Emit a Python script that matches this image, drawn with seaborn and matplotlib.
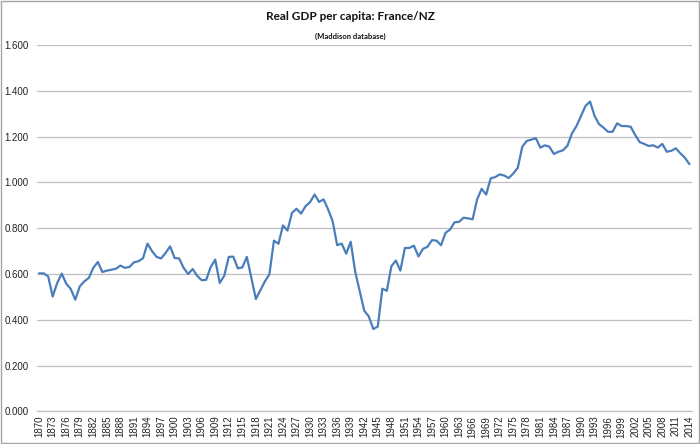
import matplotlib
matplotlib.use('Agg')
import matplotlib.pyplot as plt
import matplotlib.ticker as mticker
import seaborn as sns
import pandas as pd

sns.set_style('white')
plt.rcParams['font.family'] = ['Liberation Sans', 'DejaVu Sans']

# Real GDP per capita ratio France / New Zealand
years = list(range(1870, 2015))
ratio = [
    0.603, 0.603, 0.590, 0.502, 0.561, 0.602, 0.558, 0.535, 0.488, 0.546,  # 1870s
    0.568, 0.583, 0.627, 0.653, 0.609, 0.615, 0.619, 0.623, 0.637, 0.627,  # 1880s
    0.631, 0.651, 0.656, 0.669, 0.733, 0.700, 0.675, 0.668, 0.692, 0.721,  # 1890s
    0.670, 0.668, 0.627, 0.600, 0.622, 0.592, 0.573, 0.575, 0.631, 0.663,  # 1900s
    0.561, 0.593, 0.675, 0.676, 0.625, 0.629, 0.675, 0.583, 0.491, 0.529,  # 1910s
    0.568, 0.599, 0.746, 0.732, 0.812, 0.790, 0.867, 0.885, 0.864, 0.896,  # 1920s
    0.914, 0.947, 0.915, 0.926, 0.882, 0.831, 0.726, 0.733, 0.689, 0.741,  # 1930s
    0.610, 0.524, 0.440, 0.415, 0.360, 0.371, 0.536, 0.527, 0.634, 0.659,  # 1940s
    0.615, 0.714, 0.714, 0.724, 0.677, 0.710, 0.719, 0.748, 0.746, 0.726,  # 1950s
    0.780, 0.794, 0.826, 0.828, 0.846, 0.843, 0.839, 0.926, 0.972, 0.947,  # 1960s
    1.018, 1.023, 1.035, 1.030, 1.019, 1.039, 1.064, 1.156, 1.181, 1.187,  # 1970s
    1.193, 1.152, 1.162, 1.156, 1.124, 1.134, 1.140, 1.160, 1.214, 1.246,  # 1980s
    1.290, 1.334, 1.353, 1.291, 1.254, 1.239, 1.221, 1.221, 1.258, 1.246,  # 1990s
    1.246, 1.243, 1.207, 1.176, 1.168, 1.159, 1.162, 1.152, 1.168, 1.134,  # 2000s
    1.138, 1.149, 1.127, 1.108, 1.080,                                     # 2010s
]
tick_years = years[::3]
y_ticks = [0.0, 0.2, 0.4, 0.6, 0.8, 1.0, 1.2, 1.4, 1.6]

df = pd.DataFrame({'year': years, 'ratio': ratio})

fig = plt.figure(figsize=(7.0, 4.44), dpi=100)
ax = fig.add_axes([0.053, 0.0732, 0.936, 0.8255])

sns.lineplot(data=df, x='year', y='ratio', ax=ax, color='#4a7ebb', linewidth=1.6)

ax.set_xlim(1869.55, 2014.65)
ax.set_ylim(0, 1.6)
ax.set_xticks(tick_years)
ax.set_xticklabels([str(y) for y in tick_years], rotation=90, fontsize=7, color='#222222')
ax.set_yticks(y_ticks)
ax.yaxis.set_major_formatter(mticker.FormatStrFormatter('%.3f'))
ax.tick_params(axis='y', labelsize=7, colors='#222222', length=0, pad=6)
ax.tick_params(axis='x', length=0, pad=3)
ax.set_xlabel('')
ax.set_ylabel('')

ax.grid(axis='y', color='#bfbfbf', linewidth=0.9)
ax.set_axisbelow(True)
for side in ['left', 'right', 'top']:
    ax.spines[side].set_visible(False)
ax.spines['bottom'].set_color('#bfbfbf')
ax.spines['bottom'].set_linewidth(0.9)

title_font = ['Lato', 'Open Sans', 'DejaVu Sans']
fig.text(0.5, 0.962, 'Real GDP per capita: France/NZ', ha='center', va='center',
         fontsize=8.5, fontweight='bold', color='#111111', family=title_font)
fig.text(0.5, 0.918, '(Maddison database)', ha='center', va='center',
         fontsize=5.5, fontweight='bold', color='#111111', family=title_font)

# light frame round the whole chart area
fig.patches.append(plt.Rectangle((0.001, 0.002), 0.997, 0.995, transform=fig.transFigure,
                                 fill=False, edgecolor='#a6a6a6', linewidth=1.0))

fig.savefig('out.png', dpi=100)
